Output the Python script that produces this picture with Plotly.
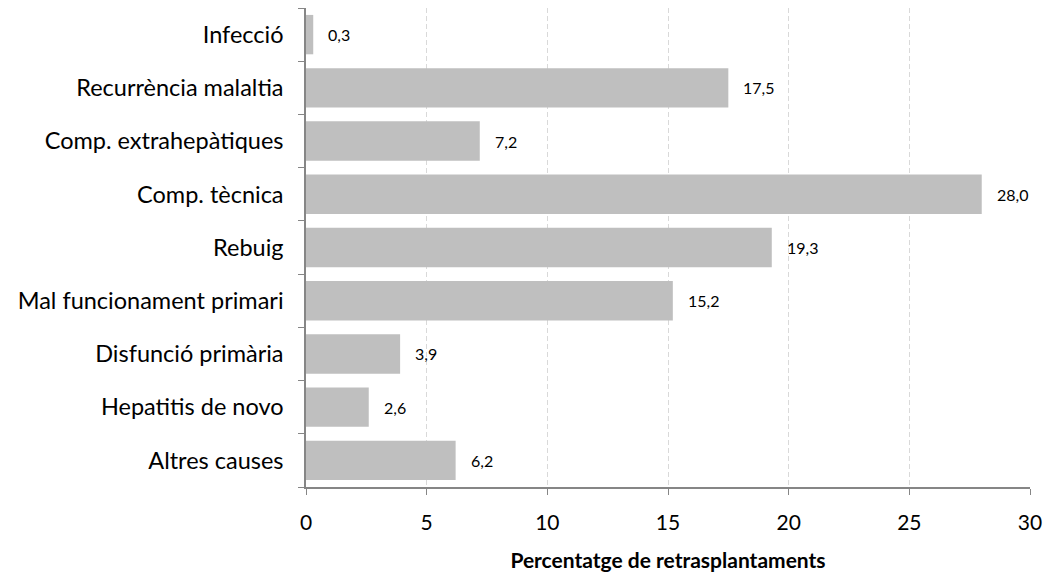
import plotly.graph_objects as go

categories = ["Infecció", "Recurrència malaltia", "Comp. extrahepàtiques", "Comp. tècnica",
              "Rebuig", "Mal funcionament primari", "Disfunció primària",
              "Hepatitis de novo", "Altres causes"]
values = [0.3, 17.5, 7.2, 28.0, 19.3, 15.2, 3.9, 2.6, 6.2]
labels = [f"{v:.1f}".replace(".", ",") for v in values]
x_ticks = [0, 5, 10, 15, 20, 25, 30]

FONT = "Lato, Open Sans, sans-serif"

fig = go.Figure()
fig.add_trace(go.Bar(
    x=values, y=categories, orientation="h",
    marker=dict(color="#BFBFBF", line=dict(width=0)),
    hoverinfo="x+y",
))
for c, v, t in zip(categories, values, labels):
    fig.add_annotation(x=v, y=c, text=t, showarrow=False, xanchor="left",
                       xshift=13, font=dict(size=16, color="#000000", family=FONT))

fig.update_layout(
    width=1043, height=569,
    margin=dict(l=298, r=21, t=0, b=90, autoexpand=False),
    plot_bgcolor="white", paper_bgcolor="white",
    bargap=0.26,
    showlegend=False,
    font=dict(family=FONT, color="#000000"),
    xaxis=dict(
        range=[0, 30], tickvals=x_ticks, ticktext=[str(t) for t in x_ticks],
        showgrid=True, gridcolor="#D9D9D9", griddash="5px,3px", gridwidth=1,
        showline=True, linecolor="#868686", linewidth=1.5,
        ticks="outside", ticklen=6, tickcolor="#868686",
        tickfont=dict(size=21, family=FONT), ticklabelstandoff=10,
        zeroline=False, automargin=False,
        title=dict(text="<b>Percentatge de retrasplantaments</b>", font=dict(size=21, family=FONT), standoff=20),
    ),
    yaxis=dict(
        categoryorder="array", categoryarray=categories[::-1],
        showline=True, linecolor="#868686", linewidth=1.5,
        ticks="outside", ticklen=6, tickcolor="#868686", tickson="boundaries",
        tickfont=dict(size=23.5, family=FONT), ticklabelstandoff=16,
        showgrid=False, zeroline=False, automargin=False,
    ),
)

fig.write_html("out.html")
